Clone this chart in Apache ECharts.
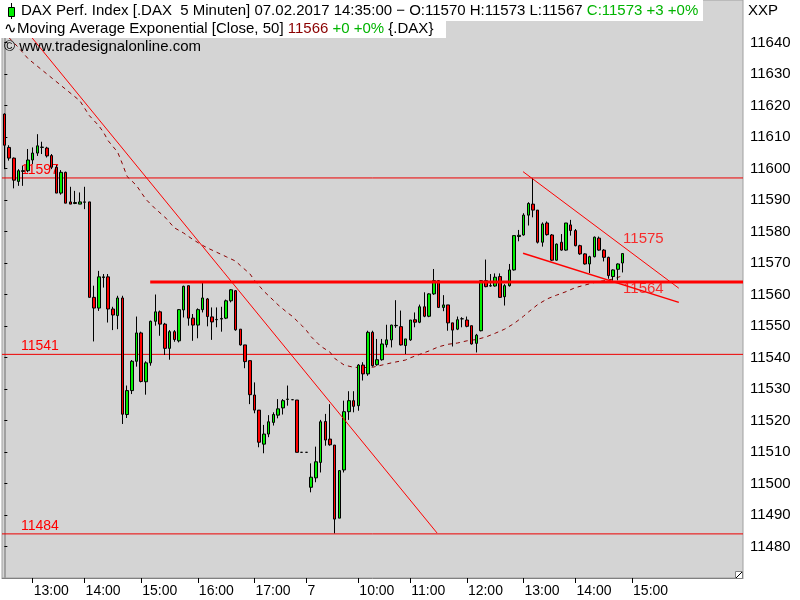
<!DOCTYPE html>
<html><head><meta charset="utf-8">
<script src="https://cdn.jsdelivr.net/npm/echarts@6/dist/echarts.min.js"></script>
<style>html,body{margin:0;padding:0;background:#fff}#c{width:800px;height:600px}</style>
</head><body><div id="c"></div>
<script>
// ---- data (5-minute DAX bars) ----
const opens = [11617.3,11606.7,11603.3,11595.9,11599.1,11599.3,11602.7,11604.9,11606.7,11606.5,
11604.1,11600.4,11592.2,11598.8,11589.4,11588.9,11588.7,11589.3,11589.4,11559.1,
11555.7,11565.4,11565.6,11555.4,11553.3,11558.9,11521.9,11529.5,11538.8,11547.8,
11532.3,11538.3,11551.5,11554.5,11550.6,11542.9,11548.2,11545.3,11555.1,11562.8,
11552.5,11550.3,11555.2,11558.6,11552.9,11552.0,11552.2,11552.5,11558.0,11561.2,
11549.0,11544.0,11539.0,11528.1,11523.3,11512.5,11515.7,11519.4,11521.7,11524.0,
11526.7,11526.6,11526.5,11509.9,11509.9,11498.8,11501.8,11506.7,11519.7,11514.1,
11512.2,11489.0,11504.3,11522.8,11526.3,11524.7,11537.6,11534.8,11548.0,11537.7,
11539.3,11544.1,11545.6,11550.1,11549.8,11543.8,11545.6,11552.0,11551.2,11556.1,
11553.1,11560.2,11564.4,11555.9,11556.7,11551.0,11549.0,11552.3,11551.9,11550.1,
11544.5,11548.5,11564.4,11562.7,11562.7,11565.7,11559.3,11562.8,11567.8,11578.4,
11578.9,11585.2,11588.7,11586.8,11576.6,11582.7,11578.9,11570.9,11576.6,11574.1,
11582.1,11580.3,11575.5,11572.9,11569.7,11572.0,11577.9,11574.1,11571.8,11565.7,
11568.0,11570.0];
const highs = [11617.5,11607.4,11603.5,11599.8,11600.9,11606.2,11606.7,11610.9,11608.5,11606.9,
11604.6,11601.1,11599.5,11599.0,11594.2,11592.9,11592.4,11594.2,11589.4,11562.8,
11567.5,11566.5,11566.5,11556.1,11559.6,11559.6,11531.1,11539.2,11553.0,11548.2,
11538.8,11551.7,11560.0,11554.9,11551.0,11548.7,11548.7,11555.4,11562.8,11562.8,
11553.8,11555.6,11563.9,11558.9,11555.9,11555.9,11556.1,11558.4,11561.7,11561.4,
11549.0,11544.0,11539.0,11532.1,11523.3,11518.6,11521.7,11522.6,11526.8,11526.8,
11531.1,11526.6,11526.5,11509.9,11509.9,11506.4,11511.7,11520.2,11522.1,11525.2,
11512.2,11504.1,11526.3,11529.3,11529.3,11537.9,11538.5,11548.5,11548.5,11545.9,
11545.9,11550.4,11550.4,11558.2,11554.9,11545.9,11551.9,11554.3,11556.8,11560.7,
11560.4,11568.1,11564.6,11559.8,11556.7,11551.0,11553.0,11552.8,11553.0,11550.1,
11547.5,11564.6,11571.1,11566.5,11566.7,11566.7,11563.3,11569.7,11578.7,11580.5,
11585.8,11589.3,11597.0,11586.8,11582.9,11583.2,11579.2,11576.2,11579.2,11582.7,
11583.7,11580.8,11575.8,11573.1,11572.3,11578.4,11578.4,11574.4,11572.0,11568.0,
11569.9,11573.0];
const lows = [11599.8,11602.5,11593.7,11594.5,11594.5,11598.8,11601.4,11604.0,11604.6,11603.5,
11599.8,11592.2,11591.7,11589.0,11588.7,11588.7,11588.7,11587.1,11559.1,11545.1,
11554.8,11562.2,11551.1,11548.7,11549.0,11518.9,11520.8,11528.4,11537.1,11532.1,
11528.2,11537.4,11550.1,11546.9,11540.8,11539.3,11545.0,11544.8,11552.7,11550.1,
11545.3,11546.1,11554.3,11549.9,11545.6,11549.6,11548.2,11552.2,11557.5,11548.5,
11543.8,11536.6,11525.2,11522.3,11511.5,11509.6,11514.7,11518.4,11520.7,11521.9,
11524.7,11526.6,11509.9,11509.9,11509.9,11497.2,11500.4,11503.5,11512.0,11512.0,
11484.2,11489.0,11503.5,11520.2,11522.6,11523.1,11532.7,11534.2,11537.1,11537.4,
11539.0,11543.2,11543.2,11549.4,11543.8,11541.1,11545.3,11549.6,11550.9,11552.8,
11552.8,11559.9,11555.7,11554.7,11548.5,11543.5,11548.7,11549.6,11549.6,11544.1,
11541.6,11548.3,11562.3,11562.5,11562.5,11558.9,11556.5,11562.5,11567.6,11576.9,
11578.7,11581.9,11584.5,11576.2,11575.2,11578.7,11570.7,11570.7,11573.9,11573.9,
11578.7,11575.3,11572.6,11569.5,11566.8,11571.8,11573.9,11570.5,11565.0,11564.4,
11564.5,11567.0];
const closes = [11607.4,11603.3,11596.3,11599.3,11599.3,11602.7,11604.9,11607.2,11606.8,11604.0,
11600.4,11592.2,11598.8,11589.0,11588.7,11589.2,11589.4,11589.4,11559.1,11555.7,
11565.6,11565.6,11555.4,11553.5,11558.9,11522.0,11529.5,11538.8,11547.8,11532.4,
11538.3,11551.5,11554.5,11550.6,11542.9,11548.2,11545.7,11555.2,11562.6,11552.5,
11550.3,11555.2,11558.9,11553.0,11551.3,11552.1,11552.4,11558.0,11561.5,11548.8,
11544.0,11538.7,11528.2,11523.3,11513.1,11515.7,11519.6,11521.9,11523.7,11526.3,
11526.8,11526.6,11509.9,11509.9,11509.9,11502.0,11506.9,11519.6,11513.8,11512.3,
11488.7,11504.1,11522.8,11526.3,11524.5,11537.6,11534.8,11548.0,11537.4,11539.3,
11544.3,11545.6,11550.3,11550.2,11544.0,11545.9,11551.9,11551.2,11556.1,11553.1,
11560.2,11564.4,11555.9,11556.7,11551.0,11548.7,11552.0,11552.3,11549.9,11544.3,
11547.1,11564.4,11562.5,11562.8,11565.5,11559.1,11562.8,11567.8,11578.7,11578.8,
11585.2,11588.9,11586.8,11576.6,11582.4,11579.0,11570.9,11576.0,11574.1,11582.7,
11580.3,11575.5,11572.9,11569.7,11572.0,11578.2,11574.1,11571.8,11566.0,11567.8,
11569.7,11573.0];
// EMA(50) at these bar indices
const emaIndex = [1,3,5,16,18,20,21,22,24,25,26,28,30,32,34,36,38,40,42,43,45,47,49,50,52,53,55,56,58,60,61,63,64,65,67,69,70,72,74,76,78,80,82,85,86,88,90,92,94,96,98,100,102,104,106,108,110,111,113,115,117,119,121,123,125,127,129,131];
const emaValue = [11641.5,11638.4,11634.9,11621.5,11616.8,11613.6,11611.5,11608.8,11605.2,11601.5,11597.5,11594.6,11590.2,11587.2,11584.6,11581.2,11579.5,11577.4,11575.6,11574.8,11573.4,11572.0,11570.6,11569.2,11566.6,11564.5,11561.0,11559.6,11556.7,11554.2,11553.1,11550.2,11548.6,11546.6,11543.6,11541.7,11539.7,11537.6,11536.9,11536.8,11536.9,11537.6,11538.3,11539.2,11539.9,11541.0,11542.1,11543.4,11544.2,11544.6,11545.3,11545.7,11546.5,11547.7,11549.0,11550.8,11553.1,11554.4,11556.8,11558.6,11559.8,11560.9,11562.2,11563.0,11563.8,11564.4,11564.9,11566.0];
const slotCount = 157;
const xTickIndex = [6,17,29,41,53,64,75,86,98,110,121,133];
const xTickText = ['13:00','14:00','15:00','16:00','17:00','7','10:00','11:00','12:00','13:00','14:00','15:00'];
const yTicks = [11480,11490,11500,11510,11520,11530,11540,11550,11560,11570,11580,11590,11600,11610,11620,11630,11640];
const levels = [11597, 11541, 11484];
const supportLevel = 11564;
const supportStart = 30.9;
const trendDown = [[1, 11650.4], [91.67, 11484.3]];
const channelUpper = [[109.9, 11599.0], [142.9, 11562.0]];
const channelLower = [[109.9, 11573.1], [142.9, 11557.5]];
const channelLabels = [[131.1, 11577.6, '11575'], [131.1, 11561.7, '11564']];

// ---- chart ----
const FONT = 'Liberation Sans, Arial, sans-serif';
const categories = Array.from({length: slotCount}, (_, i) => String(i));
const candleData = opens.map((o, i) => [o, closes[i], lows[i], highs[i]]);
const emaData = new Array(slotCount).fill(null);
emaIndex.forEach((k, j) => { emaData[k] = emaValue[j]; });
const tickSet = new Set(xTickIndex);

const series = [];
levels.forEach(v => {
  series.push({
    type: 'line', xAxisIndex: 1, yAxisIndex: 0, z: 1, silent: true,
    data: [[-0.5, v], [slotCount - 0.5, v]],
    showSymbol: true, symbol: 'circle', symbolSize: 0,
    lineStyle: {color: '#ee0000', width: 1},
    label: {show: true, position: 'top', align: 'left', distance: 1, offset: [19, 0],
      color: '#ff0000', fontSize: 14, fontFamily: FONT,
      formatter: p => p.dataIndex === 0 ? String(v) : ''}
  });
});
series.push({
  type: 'line', xAxisIndex: 0, yAxisIndex: 0, z: 2, silent: true,
  data: emaData, connectNulls: true, showSymbol: false, symbol: 'none',
  lineStyle: {color: '#8b0000', width: 1, type: [4, 4]}
});
series.push({
  type: 'candlestick', xAxisIndex: 0, yAxisIndex: 0, z: 3,
  data: candleData, barWidth: 3,
  itemStyle: {color: '#00ee00', color0: '#ff0000', borderColor: '#000', borderColor0: '#000', borderWidth: 1}
});
[trendDown, channelUpper].forEach(seg => series.push({
  type: 'line', xAxisIndex: 1, yAxisIndex: 0, z: 4, silent: true,
  data: seg, showSymbol: false, symbol: 'none',
  lineStyle: {color: '#ff0000', width: 1}
}));
series.push({
  type: 'line', xAxisIndex: 1, yAxisIndex: 0, z: 4, silent: true,
  data: channelLower, showSymbol: false, symbol: 'none',
  lineStyle: {color: '#ff0000', width: 1.5}
});
series.push({
  type: 'line', xAxisIndex: 1, yAxisIndex: 0, z: 4, silent: true,
  data: [[supportStart, supportLevel], [slotCount - 0.5, supportLevel]],
  showSymbol: false, symbol: 'none',
  lineStyle: {color: '#ff0000', width: 3}
});
series.push({
  type: 'scatter', xAxisIndex: 1, yAxisIndex: 0, z: 5, silent: true,
  data: channelLabels, symbolSize: 0,
  label: {show: true, position: 'right', distance: 0, color: '#ff0000', fontSize: 15, fontFamily: FONT,
    formatter: p => p.data[2]}
});

const option = {
  animation: false,
  backgroundColor: '#ffffff',
  grid: {left: 2, top: 0, width: 741, height: 578, show: true, backgroundColor: '#d4d4d4',
    borderColor: '#a0a0a0', borderWidth: 1, containLabel: false},
  xAxis: [{
    type: 'category', data: categories, boundaryGap: true,
    axisLine: {show: true, lineStyle: {color: '#808080', width: 1}},
    axisTick: {show: true, alignWithLabel: true, length: 5, interval: (i) => tickSet.has(i), lineStyle: {color: '#000'}},
    axisLabel: {show: true, interval: (i) => tickSet.has(i), align: 'left', margin: 6, padding: [0,0,0,1],
      color: '#000', fontSize: 14, fontFamily: FONT,
      formatter: (v, i) => { const k = xTickIndex.indexOf(i); return k >= 0 ? xTickText[k] : ''; }},
    splitLine: {show: false}
  }, {
    type: 'value', min: -0.5, max: slotCount - 0.5, show: false
  }],
  yAxis: [{
    type: 'value', position: 'right', min: 11470, max: 11653.5, interval: 10, scale: true,
    axisLine: {show: true, lineStyle: {color: '#a0a0a0', width: 2}},
    axisTick: {show: true, length: 3, customValues: yTicks, lineStyle: {color: '#000'}},
    axisLabel: {show: true, margin: 7, color: '#000', fontSize: 15, fontFamily: FONT, customValues: yTicks,
      padding: [3, 0, 0, 0],
      formatter: v => (v < 11475 || v > 11645) ? '' : String(Math.round(v))},
    splitLine: {show: false}
  }],
  series: series,
  graphic: [
    {type: 'rect', shape: {x: 0, y: 0, width: 703, height: 21}, style: {fill: '#ffffff'}, z: 100},
    {type: 'rect', shape: {x: 0, y: 21, width: 446, height: 17}, style: {fill: '#ffffff'}, z: 100},
    {type: 'line', shape: {x1: 11.5, y1: 3, x2: 11.5, y2: 19}, style: {stroke: '#000', lineWidth: 1}, z: 101},
    {type: 'rect', shape: {x: 8.5, y: 7.5, width: 6, height: 9}, style: {fill: '#00ee00', stroke: '#000', lineWidth: 1}, z: 102},
    {type: 'text', x: 21, y: 11, z: 103, style: {
      text: '{k|DAX Perf. Index [.DAX  5 Minuten] 07.02.2017 14:35:00 \u2212 O:11570 H:11573 L:11567 }{g|C:11573 +3 +0%}',
      verticalAlign: 'middle', font: '15px ' + FONT,
      rich: {k: {fill: '#000', font: '15px ' + FONT}, g: {fill: '#00b400', font: '15px ' + FONT}}}},
    {type: 'text', x: 4, y: 29, z: 103, style: {
      text: '{k|\u223FMoving Average Exponential [Close, 50] }{r|11566}{g| +0 +0%}{k| {.DAX}}',
      verticalAlign: 'middle', font: '15px ' + FONT,
      rich: {k: {fill: '#000', font: '15px ' + FONT}, r: {fill: '#8b0000', font: '15px ' + FONT}, g: {fill: '#00b400', font: '15px ' + FONT}}}},
    {type: 'text', x: 4, y: 47, z: 103, style: {text: '\u00A9 www.tradesignalonline.com', fill: '#000',
      verticalAlign: 'middle', font: '15px ' + FONT}},
    {type: 'text', x: 748, y: 11, z: 103, style: {text: 'XXP', fill: '#000', verticalAlign: 'middle', font: '15px ' + FONT}},
    {type: 'rect', shape: {x: 735.5, y: 571.5, width: 7, height: 7}, style: {fill: '#ffffff', stroke: '#808080', lineWidth: 1}, z: 103},
    {type: 'line', shape: {x1: 736, y1: 578, x2: 742, y2: 572}, style: {stroke: '#000', lineWidth: 1}, z: 104}
  ]
};
const chart = echarts.init(document.getElementById('c'), null, {renderer: 'canvas'});
chart.setOption(option);
</script></body></html>
